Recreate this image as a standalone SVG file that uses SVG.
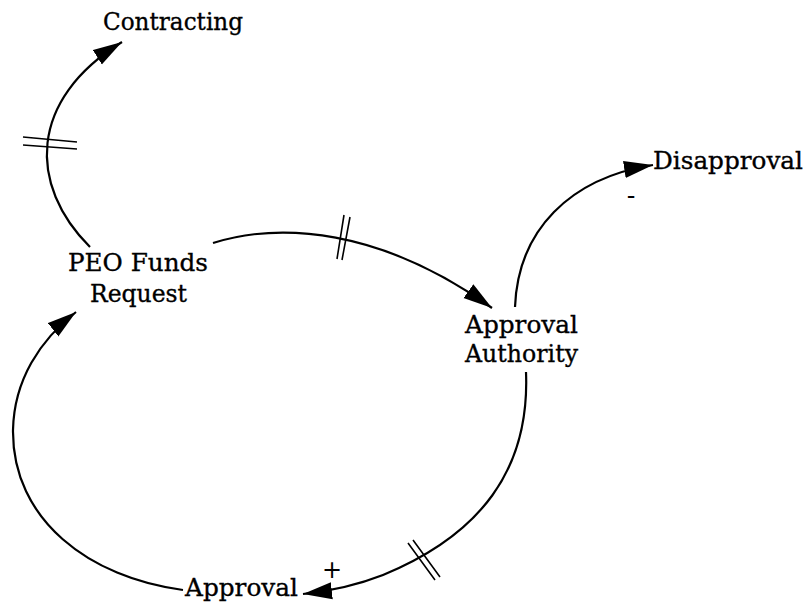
<svg xmlns="http://www.w3.org/2000/svg" width="806" height="605" viewBox="0 0 806 605">
  <style>
    .lbl { font-family: "DejaVu Serif", "Liberation Serif", serif; font-size: 25px; fill: #000; stroke: #000; stroke-width: 0.35; }
    .sign { font-family: "DejaVu Sans", "Liberation Sans", sans-serif; font-size: 24px; fill: #000; }
    .link { fill: none; stroke: #000; stroke-width: 2.2; marker-end: url(#head); }
    .delay { stroke: #000; stroke-width: 1.6; fill: none; }
  </style>
  <defs>
    <marker id="head" markerUnits="userSpaceOnUse" markerWidth="30" markerHeight="18" refX="29" refY="9" orient="auto">
      <path d="M0,0.5 L29,9 L0,17.5 z" fill="#000"/>
    </marker>
  </defs>
  <rect width="806" height="605" fill="#fff"/>

  <!-- connectors -->
  <g id="connectors">
    <!-- PEO Funds Request -> Contracting (delayed) -->
    <path class="link" d="M90,247 C28,185 28,100 122,42"/>
    <path class="delay" d="M23,137 L77,142 M23,145 L77,149"/>

    <!-- PEO Funds Request -> Approval Authority (delayed) -->
    <path class="link" d="M213,243 C280,222 380,228 492,308"/>
    <path class="delay" d="M344,215 L337,259 M350,217 L342,260"/>

    <!-- Approval Authority -> Disapproval -->
    <path class="link" d="M515,307 C518,230 570,178 653,165"/>

    <!-- Approval Authority -> Approval (delayed) -->
    <path class="link" d="M526,372 C530,470 480,535 383,575 C355,586 330,591 303,594"/>
    <path class="delay" d="M408,543 L435,580 M413,540 L440,577"/>

    <!-- Approval -> PEO Funds Request -->
    <path class="link" d="M183,590 C90,578 12,520 13,430 C14,380 40,340 76,312"/>

    <!-- polarity signs -->
    <text class="sign" x="631" y="204" text-anchor="middle">-</text>
    <text class="sign" x="332" y="578" text-anchor="middle">+</text>
  </g>

  <!-- nodes -->
  <g id="contracting">
    <text class="lbl" x="103" y="30" textLength="140" lengthAdjust="spacingAndGlyphs">Contracting</text>
  </g>
  <g id="disapproval">
    <text class="lbl" x="653" y="169" textLength="150" lengthAdjust="spacingAndGlyphs">Disapproval</text>
  </g>
  <g id="peo-funds-request">
    <text class="lbl" x="68" y="271" textLength="140" lengthAdjust="spacingAndGlyphs">PEO Funds</text>
    <text class="lbl" x="90" y="302" textLength="97" lengthAdjust="spacingAndGlyphs">Request</text>
  </g>
  <g id="approval-authority">
    <text class="lbl" x="465" y="333" textLength="113" lengthAdjust="spacingAndGlyphs">Approval</text>
    <text class="lbl" x="465" y="362" textLength="113" lengthAdjust="spacingAndGlyphs">Authority</text>
  </g>
  <g id="approval">
    <text class="lbl" x="185" y="596" textLength="113" lengthAdjust="spacingAndGlyphs">Approval</text>
  </g>
</svg>
